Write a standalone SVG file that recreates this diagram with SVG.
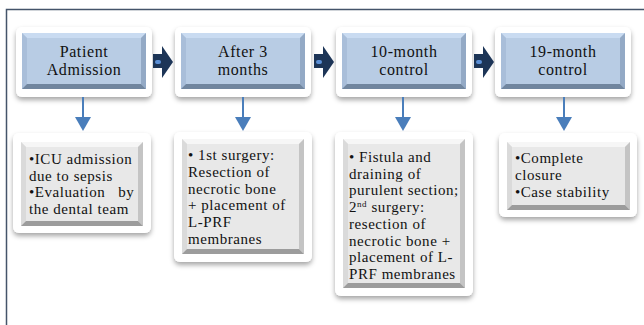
<svg xmlns="http://www.w3.org/2000/svg" width="644" height="325" viewBox="0 0 644 325">
<defs>
<filter id="sh" x="-10%" y="-10%" width="120%" height="130%">
<feDropShadow dx="0" dy="3" stdDeviation="2.5" flood-color="#000" flood-opacity="0.35"/>
</filter>
<g id="topbox">
<rect x="0" y="0" width="136" height="70" rx="6" class="frame" filter="url(#sh)"/>
<rect x="6" y="6" width="124" height="56" class="bface"/>
<polygon points="6,6 130,6 125,11 11,11" class="btop"/>
<polygon points="6,6 11,11 11,57 6,62" class="bleft"/>
<polygon points="130,6 130,62 125,57 125,11" class="bright"/>
<polygon points="6,62 11,57 125,57 130,62" class="bbot"/>
</g>
</defs>
<style>
.frame{fill:#ffffff;}
.bface{fill:#b8cce4;}
.btop{fill:#c9dbf1;}
.bleft{fill:#a9bed9;}
.bright{fill:#93a9c5;}
.bbot{fill:#71869f;}
.gface{fill:#e8e8e8;}
.gtop{fill:#f6f6f6;}
.gleft{fill:#dadada;}
.gright{fill:#c4c4c4;}
.gbot{fill:#9c9c9c;}
.tt{font-family:"Liberation Serif","DejaVu Serif",serif;font-size:16px;letter-spacing:0.6px;fill:#111;text-anchor:middle;}
.bt{font-family:"Liberation Serif","DejaVu Serif",serif;font-size:15px;letter-spacing:0.55px;fill:#111;white-space:pre;}
.down{stroke:#4a7ebb;stroke-width:2;fill:none;}
.head{fill:#4a7ebb;}
.nav{fill:#1d3557;}
.pill{fill:#5b8fd6;}
</style>
<rect width="644" height="325" fill="#ffffff"/>
<path d="M 6.5 330 L 6.5 9.5 L 650 9.5" fill="none" stroke="#44546a" stroke-width="1.5"/>

<g id="node-admission">
<use href="#topbox" x="16" y="27"/>
<text class="tt" y="57"><tspan x="84">Patient</tspan><tspan x="84" dy="18">Admission</tspan></text>
</g>
<g id="node-3months">
<use href="#topbox" x="175" y="27"/>
<text class="tt" y="57"><tspan x="243">After 3</tspan><tspan x="243" dy="18">months</tspan></text>
</g>
<g id="node-10month">
<use href="#topbox" x="336" y="27"/>
<text class="tt" y="57"><tspan x="404">10-month</tspan><tspan x="404" dy="18">control</tspan></text>
</g>
<g id="node-19month">
<use href="#topbox" x="495" y="27"/>
<text class="tt" y="57"><tspan x="563">19-month</tspan><tspan x="563" dy="18">control</tspan></text>
</g>

<g id="detail-admission">
<rect x="13" y="133" width="138" height="100" rx="6" class="frame" filter="url(#sh)"/>
<rect x="21" y="142" width="122" height="84" class="gface"/>
<polygon points="21,142 143,142 138,147 26,147" class="gtop"/>
<polygon points="21,142 26,147 26,221 21,226" class="gleft"/>
<polygon points="143,142 143,226 138,221 138,147" class="gright"/>
<polygon points="21,226 26,221 138,221 143,226" class="gbot"/>
<text class="bt" y="164"><tspan x="29">•ICU admission</tspan><tspan x="29" dy="16.7">due to sepsis</tspan><tspan x="29" dy="16.7">•Evaluation   by</tspan><tspan x="29" dy="16.7">the dental team</tspan></text>
</g>
<g id="detail-3months">
<rect x="174" y="132" width="138" height="130" rx="6" class="frame" filter="url(#sh)"/>
<rect x="182" y="139" width="122" height="115" class="gface"/>
<polygon points="182,139 304,139 299,144 187,144" class="gtop"/>
<polygon points="182,139 187,144 187,249 182,254" class="gleft"/>
<polygon points="304,139 304,254 299,249 299,144" class="gright"/>
<polygon points="182,254 187,249 299,249 304,254" class="gbot"/>
<text class="bt" y="160"><tspan x="188">• 1st surgery:</tspan><tspan x="188" dy="16.8">Resection of</tspan><tspan x="188" dy="16.8">necrotic bone</tspan><tspan x="188" dy="16.8">+ placement of</tspan><tspan x="188" dy="16.8">L-PRF</tspan><tspan x="188" dy="16.8">membranes</tspan></text>
</g>
<g id="detail-10month">
<rect x="335" y="132" width="138" height="164" rx="6" class="frame" filter="url(#sh)"/>
<rect x="343" y="139" width="122" height="149" class="gface"/>
<polygon points="343,139 465,139 460,144 348,144" class="gtop"/>
<polygon points="343,139 348,144 348,283 343,288" class="gleft"/>
<polygon points="465,139 465,288 460,283 460,144" class="gright"/>
<polygon points="343,288 348,283 460,283 465,288" class="gbot"/>
<text class="bt" y="162"><tspan x="349">• Fistula and</tspan><tspan x="349" dy="16.7">draining of</tspan><tspan x="349" dy="16.7">purulent section;</tspan><tspan x="349" dy="16.7">2</tspan><tspan font-size="9" dy="-5">nd</tspan><tspan dy="5"> surgery:</tspan><tspan x="349" dy="16.7">resection of</tspan><tspan x="349" dy="16.7">necrotic bone +</tspan><tspan x="349" dy="16.7">placement of L-</tspan><tspan x="349" dy="16.7">PRF membranes</tspan></text>
</g>
<g id="detail-19month">
<rect x="499" y="133" width="138" height="84" rx="6" class="frame" filter="url(#sh)"/>
<rect x="507" y="142" width="123" height="68" class="gface"/>
<polygon points="507,142 630,142 625,147 512,147" class="gtop"/>
<polygon points="507,142 512,147 512,205 507,210" class="gleft"/>
<polygon points="630,142 630,210 625,205 625,147" class="gright"/>
<polygon points="507,210 512,205 625,205 630,210" class="gbot"/>
<text class="bt" y="163"><tspan x="515">•Complete</tspan><tspan x="515" dy="16.7">closure</tspan><tspan x="515" dy="17.3">•Case stability</tspan></text>
</g>

<g id="connectors">
<g class="nav">
<polygon points="153,54 162,54 162,46 173,62 162,78 162,68 153,68"/>
<polygon points="314,54 323,54 323,46 334,62 323,78 323,68 314,68"/>
<polygon points="474,54 483,54 483,46 494,62 483,78 483,68 474,68"/>
</g>
<rect x="155" y="60" width="6" height="4" rx="2" class="pill"/>
<rect x="316" y="60" width="6" height="4" rx="2" class="pill"/>
<rect x="476" y="60" width="6" height="4" rx="2" class="pill"/>
<line x1="83" y1="97" x2="83" y2="118" class="down"/>
<polygon points="75,117 91,117 83,131" class="head"/>
<line x1="243" y1="97" x2="243" y2="118" class="down"/>
<polygon points="235,117 251,117 243,131" class="head"/>
<line x1="403" y1="97" x2="403" y2="118" class="down"/>
<polygon points="395,117 411,117 403,131" class="head"/>
<line x1="564" y1="97" x2="564" y2="118" class="down"/>
<polygon points="556,117 572,117 564,131" class="head"/>
</g>
</svg>
